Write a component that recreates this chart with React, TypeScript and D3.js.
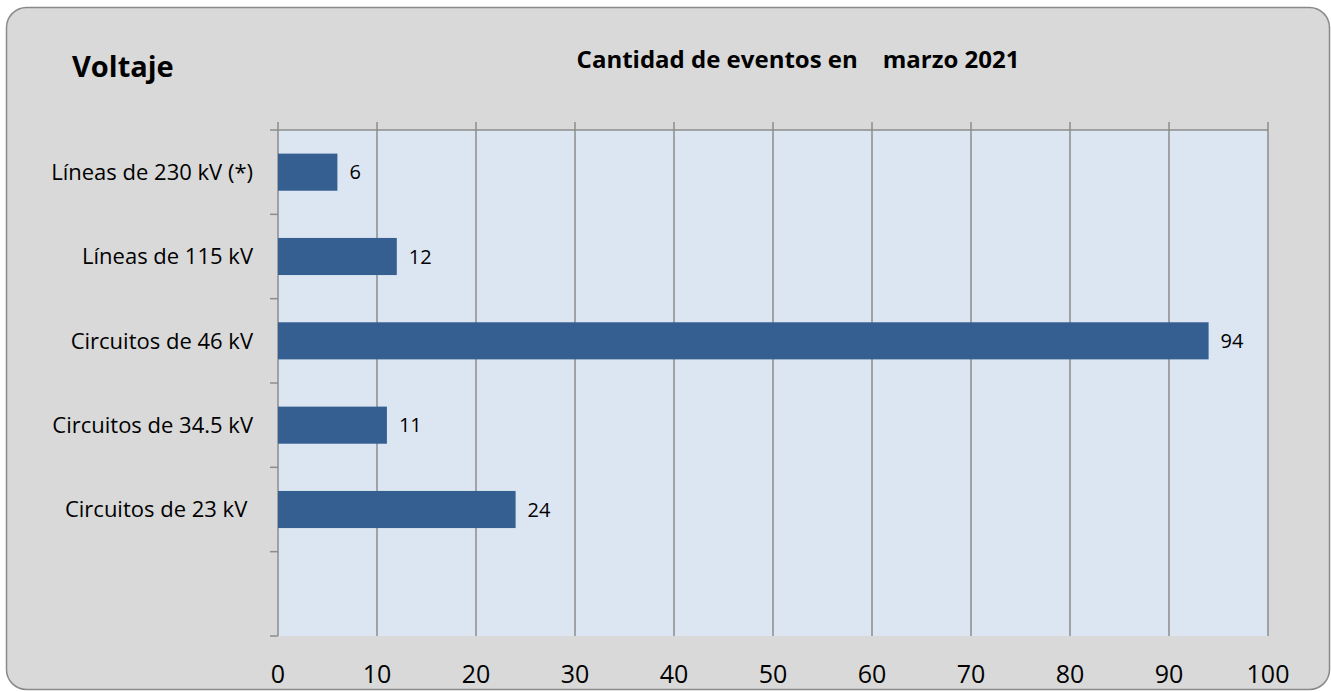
import React, { useEffect, useRef } from 'react';
import * as d3 from 'd3';

const categories = [
  'Líneas de 230 kV (*)',
  'Líneas de 115 kV',
  'Circuitos de 46 kV',
  'Circuitos de 34.5 kV',
  'Circuitos de 23 kV ',
  '',
];
const values = [6, 12, 94, 11, 24];
const xTicks = [0, 10, 20, 30, 40, 50, 60, 70, 80, 90, 100];

const W = 1331;
const H = 692;

function App() {
  const ref = useRef<SVGSVGElement>(null);

  useEffect(() => {
    const svg = d3.select(ref.current);
    svg.selectAll('*').remove();
    const font = '"Open Sans", sans-serif';

    svg.append('rect')
      .attr('x', 6.5).attr('y', 7.5)
      .attr('width', 1323).attr('height', 682)
      .attr('rx', 20)
      .attr('fill', '#d9d9d9')
      .attr('stroke', '#8a8a8a')
      .attr('stroke-width', 1.5);

    const left = 278, right = 1268, top = 130, bottom = 636;

    const x = d3.scaleLinear().domain([0, 100]).range([left, right]);
    const y = d3.scaleBand<number>()
      .domain(d3.range(categories.length))
      .range([top, bottom])
      .paddingInner(0.56)
      .paddingOuter(0.28);
    const step = (bottom - top) / categories.length;

    svg.append('rect')
      .attr('x', left).attr('y', top)
      .attr('width', right - left).attr('height', bottom - top)
      .attr('fill', '#dce6f2');

    // vertical gridlines extending above the plot
    svg.append('g').selectAll('line')
      .data(xTicks)
      .enter().append('line')
      .attr('x1', d => x(d)).attr('x2', d => x(d))
      .attr('y1', top - 8).attr('y2', bottom)
      .attr('stroke', '#8c8c8c').attr('stroke-width', 1.5);

    // top border
    svg.append('line')
      .attr('x1', left).attr('x2', right)
      .attr('y1', top).attr('y2', top)
      .attr('stroke', '#8c8c8c').attr('stroke-width', 1.5);

    // left axis ticks
    svg.append('g').selectAll('line')
      .data(d3.range(categories.length + 1))
      .enter().append('line')
      .attr('x1', left - 8).attr('x2', left)
      .attr('y1', d => top + d * step).attr('y2', d => top + d * step)
      .attr('stroke', '#8c8c8c').attr('stroke-width', 1.5);

    svg.append('g').selectAll('rect')
      .data(values)
      .enter().append('rect')
      .attr('x', x(0))
      .attr('y', (_, i) => y(i)!)
      .attr('width', d => x(d) - x(0))
      .attr('height', y.bandwidth())
      .attr('fill', '#355f91');

    svg.append('g').selectAll('text')
      .data(values)
      .enter().append('text')
      .attr('x', d => x(d) + 12)
      .attr('y', (_, i) => y(i)! + y.bandwidth() / 2)
      .attr('dy', '0.36em')
      .attr('font-family', font)
      .attr('font-size', 20)
      .attr('fill', '#000')
      .text(d => d);

    svg.append('g').selectAll('text')
      .data(categories)
      .enter().append('text')
      .attr('x', 253)
      .attr('y', (_, i) => top + (i + 0.5) * step)
      .attr('dy', '0.36em')
      .attr('text-anchor', 'end')
      .attr('font-family', font)
      .attr('font-size', 22)
      .attr('fill', '#000')
      .style('white-space', 'pre')
      .text(d => d);

    svg.append('g').selectAll('text')
      .data(xTicks)
      .enter().append('text')
      .attr('x', d => x(d))
      .attr('y', 683)
      .attr('text-anchor', 'middle')
      .attr('font-family', font)
      .attr('font-size', 25)
      .attr('fill', '#000')
      .text(d => d);

    svg.append('text')
      .attr('x', 72).attr('y', 77)
      .attr('font-family', font)
      .attr('font-weight', 'bold')
      .attr('font-size', 29)
      .text('Voltaje');

    svg.append('text')
      .attr('x', 798).attr('y', 68)
      .attr('text-anchor', 'middle')
      .attr('font-family', font)
      .attr('font-weight', 'bold')
      .attr('font-size', 24)
      .style('white-space', 'pre')
      .text('Cantidad de eventos en    marzo 2021');
  }, []);

  return (
    <svg
      ref={ref}
      width={W}
      height={H}
      style={{ position: 'absolute', left: 0, top: 0, background: '#ffffff' }}
    />
  );
}

export default App;
